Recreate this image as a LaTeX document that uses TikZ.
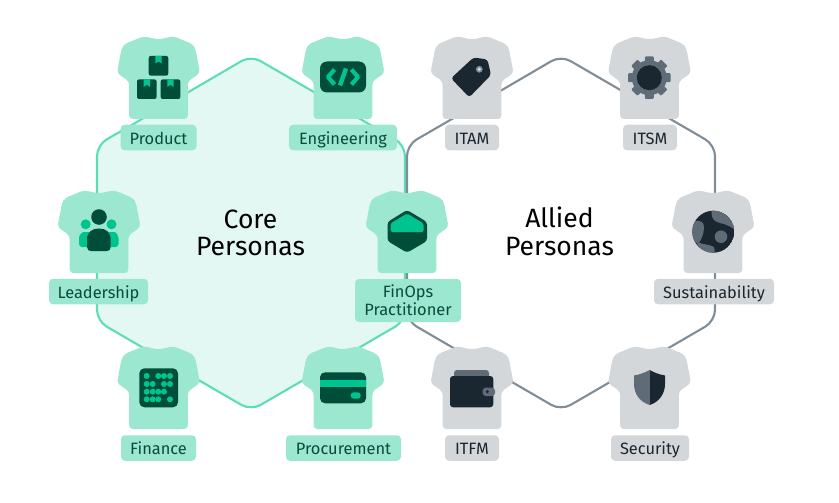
\documentclass[tikz,border=0pt]{standalone}
\usepackage{fontspec}
\setmainfont{Fira Sans}
\definecolor{gfill}{HTML}{E3F8F3}
\definecolor{gline}{HTML}{5CDDB8}
\definecolor{gshirt}{HTML}{9BE7D0}
\definecolor{gdark}{HTML}{004D3A}
\definecolor{gmid}{HTML}{00C48F}
\definecolor{gtext}{HTML}{0B4A3C}
\definecolor{yline}{HTML}{808C96}
\definecolor{yshirt}{HTML}{D3D7DA}
\definecolor{ydark}{HTML}{1A2630}
\definecolor{ymid}{HTML}{5F6C78}
\tikzset{
  hexline/.style={line width=2.1pt,rounded corners=11pt},
  lab/.style={rounded corners=4pt,inner sep=0pt,font=\fontsize{16.4}{17.7}\selectfont,align=center},
  onel/.style={text height=16pt,text depth=3pt,minimum height=25.5pt},
  glab/.style={lab,fill=gshirt,text=gtext},
  ylab/.style={lab,fill=yshirt,text=ydark},
  titletext/.style={font=\fontsize{26.5}{27.5}\selectfont,align=center,text=black,inner sep=0pt}
}
\newcommand{\tshirt}[3]{%
  \fill[#3,rounded corners=3.5pt,shift={(#1pt,-#2pt)}]
   (0,2.5) -- (15,-0.7) -- (34,7) -- (37,12) -- (41.5,36) -- (29.3,44.5) -- (29.3,82) -- (-29.3,82) -- (-29.3,44.5) -- (-41.5,36) -- (-37,12) -- (-34,7) -- (-15,-0.7) -- cycle;}
\newcommand{\boxicon}[2]{%
  \fill[gdark,rounded corners=2pt] (#1,#2) rectangle ++(19.6,19.6);
  \fill[gmid] (#1+6.6,#2) -- ++(6.4,0) -- ++(0,7.5) -- ++(-3.2,-2) -- ++(-3.2,2) -- cycle;}
\begin{document}
\begin{tikzpicture}[x=1pt,y=-1pt]
\useasboundingbox (0,0) rectangle (839,503);
% hexagons
\draw[hexline,draw=gline,fill=gfill] (174,100.5) -- (251,55.5) -- (405,145) -- (405,321) -- (251,410.5) -- (97,321) -- (97,145) -- cycle;
\draw[hexline,draw=yline] (484,100.5) -- (561,55.5) -- (715,145) -- (715,321) -- (561,410.5) -- (407,321) -- (407,145) -- cycle;
% shirts
\tshirt{158.5}{37}{gshirt}
\tshirt{343}{37}{gshirt}
\tshirt{99}{191}{gshirt}
\tshirt{407}{191}{gshirt}
\tshirt{158.5}{347}{gshirt}
\tshirt{343}{347}{gshirt}
\tshirt{472}{37}{yshirt}
\tshirt{649.5}{37}{yshirt}
\tshirt{713}{191}{yshirt}
\tshirt{472}{347}{yshirt}
\tshirt{649.5}{347}{yshirt}
% labels
\node[glab,onel,minimum width=76pt] (product) at (158.5,137.5) {Product};
\node[glab,onel,minimum width=108pt] (engineering) at (343,137.5) {Engineering};
\node[glab,onel,minimum width=99pt] (leadership) at (98.5,291.5) {Leadership};
\node[glab,minimum width=106pt,minimum height=43pt] (finops) at (408,300.5) {FinOps\\Practitioner};
\node[glab,onel,minimum width=75pt] (finance) at (158.5,448) {Finance};
\node[glab,onel,minimum width=115pt] (procurement) at (343.5,448) {Procurement};
\node[ylab,onel,minimum width=54pt] (itam) at (472,137.5) {ITAM};
\node[ylab,onel,minimum width=54pt] (itsm) at (650,137.5) {ITSM};
\node[ylab,onel,minimum width=120pt] (sustainability) at (714,291.5) {Sustainability};
\node[ylab,onel,minimum width=54pt] (itfm) at (472,448) {ITFM};
\node[ylab,onel,minimum width=78pt] (security) at (650,448) {Security};
% titles
\node[titletext] (core) at (250.5,233) {Core\\Personas};
\node[titletext] (allied) at (559.5,231.5) {Allied\\Personas};
% product icon
\boxicon{148.7}{56}
\boxicon{137}{79.4}
\boxicon{160.7}{79.4}
% engineering icon
\fill[gdark,rounded corners=7pt] (320,61.5) rectangle (366,92.5);
\draw[gmid,line width=4.2pt,line join=round] (334.5,69.5) -- (328,77) -- (334.5,84.5);
\draw[gmid,line width=4.2pt,line join=round] (351.5,69.5) -- (358,77) -- (351.5,84.5);
\draw[gmid,line width=4.4pt] (346,68.5) -- (340,85.5);
% leadership icon
\fill[gmid] (85.7,224.3) circle (5);
\fill[gmid] (111.5,224.3) circle (5);
\fill[gmid,rounded corners=3pt] (79,247) -- (79,241) .. controls (79,235) and (82,232) .. (87,232) -- (111,232) .. controls (116,232) and (118.5,235) .. (118.5,241) -- (118.5,247) -- cycle;
\fill[gdark] (99,217) circle (7.8);
\fill[gdark] (87,247) -- (87,240) .. controls (87,232) and (92,228.5) .. (99,228.5) .. controls (106,228.5) and (110.7,232) .. (110.7,240) -- (110.7,247) .. controls (110.7,250) and (109,251) .. (107,251) -- (91,251) .. controls (89,251) and (87,250) .. (87,247) -- cycle;
% finops icon
\fill[gdark,rounded corners=3pt] (407,210) -- (427,222) -- (427,241) -- (407,252.7) -- (387.5,241) -- (387.5,222) -- cycle;
\fill[gmid,rounded corners=1.5pt] (407,213.5) -- (423.5,223.5) -- (423.5,232) -- (390.5,232) -- (390.5,223.5) -- cycle;
% finance icon
\fill[gdark,rounded corners=5pt] (139.3,368.3) rectangle (178,407.3);
\foreach \xx/\yy in {146.7/376,158.3/376,164/376,170/376,146.7/384,152.7/384,164/384,170/384,146.7/391.7,152.7/391.7,158.3/391.7,164/391.7,146.7/399.3,152.7/399.3,158.3/399.3,170/399.3}
  \fill[gmid] (\xx,\yy) circle (3);
% procurement icon
\fill[gdark,rounded corners=5pt] (320,372.3) rectangle (366,403.3);
\fill[gmid] (320,380.3) rectangle (366,386.7);
\fill[gmid,rounded corners=3pt] (350.7,392.3) rectangle (360.7,398.7);
% ITAM icon
\fill[ydark,rounded corners=3pt] (451,78.3) -- (469.3,97.3) -- (491,75) -- (487.5,59.5) -- (473.5,57.5) -- cycle;
\fill[yline] (479.3,69.3) circle (3.4);
\fill[yshirt] (479.3,69.3) circle (1.8);
% ITSM icon
\foreach \a in {0,45,...,315}
  \fill[ymid,rotate around={\a:(649.3,77.7)},rounded corners=1pt] (644.8,56.5) rectangle (653.8,70);
\fill[ymid] (649.3,77.7) circle (17.5);
\fill[ydark] (649.3,77.7) circle (12.5);
% globe
\begin{scope}
\clip (713.3,231.7) circle (21);
\fill[ydark] (713.3,231.7) circle (21);
\fill[ymid] (711.7,209) .. controls (711,215) and (712,220) .. (717,222) .. controls (722,224) and (728,224) .. (735,230) -- (738,205) -- cycle;
\fill[ymid] (695,221) .. controls (700,220) and (704,222) .. (704,227) .. controls (704,233) and (702,239) .. (699,242.5) .. controls (695,244) and (692,243) .. (689,238) -- (690,222) -- cycle;
\fill[ymid] (698,242) .. controls (703,245) and (709,244) .. (714,247) .. controls (715,249) and (715,252) .. (713.5,256) -- (695,252) -- cycle;
\fill[ymid] (721,236.7) circle (6.3);
\end{scope}
% wallet
\fill[ymid,rounded corners=3pt] (454,370) rectangle (489,382);
\fill[ydark,rounded corners=3pt] (450,376) rectangle (493.3,407.3);
\fill[ymid,rounded corners=3pt] (482.7,387.7) rectangle (495,396);
\fill[ydark] (487.3,391.7) circle (1.7);
% shield
\fill[ymid] (649.7,370) -- (649.7,405) .. controls (640,402) and (634,394) .. (634,384) -- (634,375.5) .. controls (640,374.5) and (645,372.5) .. (649.7,370) -- cycle;
\fill[ydark] (649.7,370) -- (649.7,405) .. controls (659,402) and (665,394) .. (665,384) -- (665,375.5) .. controls (659,374.5) and (654,372.5) .. (649.7,370) -- cycle;
\end{tikzpicture}
\end{document}
